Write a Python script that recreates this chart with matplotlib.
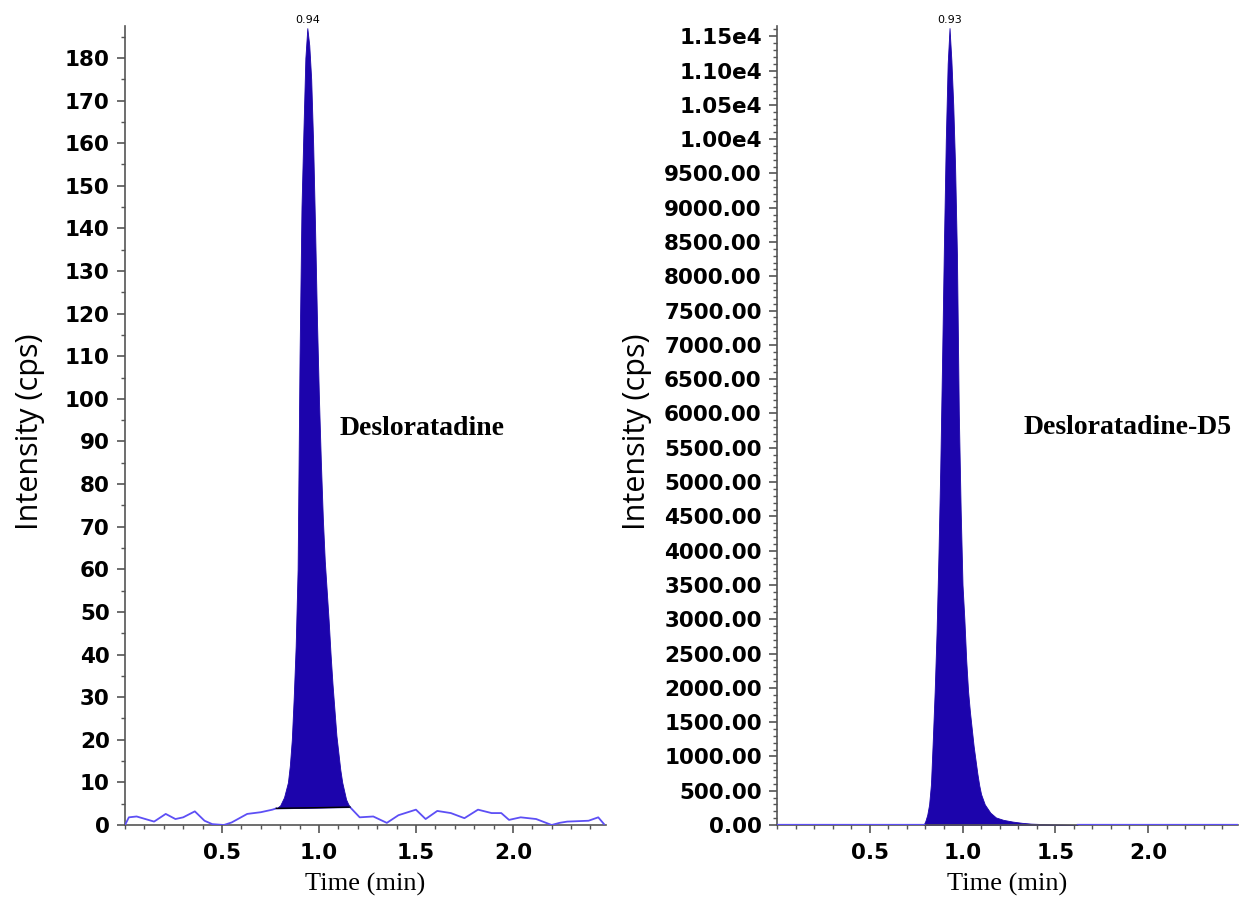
import matplotlib
matplotlib.use("Agg")
import matplotlib.pyplot as plt
from matplotlib.ticker import MultipleLocator, FuncFormatter, FixedLocator
import numpy as np

# ---------------- data: Desloratadine (left) ----------------
left_pre_t = [0.00, 0.02, 0.06, 0.15, 0.21, 0.26, 0.30, 0.36, 0.41, 0.45, 0.51, 0.55, 0.63, 0.70, 0.76, 0.78]
left_pre_y = [0.0, 1.8, 2.0, 0.8, 2.6, 1.4, 1.8, 3.2, 1.0, 0.2, 0.0, 0.6, 2.6, 3.0, 3.6, 3.9]
left_peak_t = [0.78, 0.80, 0.82, 0.84, 0.85, 0.86, 0.87, 0.88, 0.89, 0.90, 0.91, 0.92, 0.93, 0.94,
               0.95, 0.96, 0.97, 0.98, 0.99, 1.00, 1.01, 1.02, 1.03, 1.04, 1.05, 1.06, 1.07, 1.08,
               1.09, 1.10, 1.11, 1.12, 1.13, 1.14, 1.15, 1.16]
left_peak_y = [3.9, 4.6, 6.5, 10.0, 14.0, 20.0, 30.0, 42.0, 60.0, 110.0, 145.0, 163.0, 180.0, 187.0,
               183.0, 175.0, 160.0, 140.0, 118.0, 100.0, 85.0, 72.0, 62.0, 55.0, 48.0, 40.0, 33.0, 27.0,
               21.0, 17.0, 13.0, 10.0, 8.0, 6.0, 5.0, 4.2]
left_post_t = [1.16, 1.21, 1.28, 1.35, 1.41, 1.50, 1.55, 1.61, 1.68, 1.75, 1.82, 1.89, 1.94, 1.98, 2.04,
               2.12, 2.20, 2.24, 2.28, 2.39, 2.44, 2.47]
left_post_y = [4.2, 1.8, 2.0, 0.5, 2.3, 3.6, 1.4, 3.3, 2.8, 1.6, 3.6, 2.8, 2.8, 1.2, 1.8,
               1.4, 0.0, 0.5, 0.8, 1.0, 1.8, 0.2]
left_apex_label = "0.94"
left_name = "Desloratadine"
left_yticks = list(range(0, 190, 10))

# ---------------- data: Desloratadine-D5 (right) ----------------
right_pre_t = [0.00, 0.40, 0.79]
right_pre_y = [0.0, 0.0, 0.0]
right_peak_t = [0.79, 0.80, 0.81, 0.82, 0.83, 0.84, 0.85, 0.86, 0.87, 0.88, 0.89, 0.90, 0.91, 0.92,
                0.93, 0.94, 0.95, 0.96, 0.97, 0.98, 0.99, 1.00, 1.01, 1.02, 1.03, 1.04, 1.05, 1.06,
                1.07, 1.08, 1.09, 1.10, 1.12, 1.15, 1.18, 1.22, 1.27, 1.32, 1.37, 1.45, 1.52, 1.58, 1.62]
right_peak_y = [0, 60, 150, 300, 600, 1250, 1950, 2800, 3900, 5200, 6800, 8500, 10000, 11100,
                11620, 11150, 10500, 9600, 8300, 6000, 4600, 3500, 3000, 2400, 1950, 1650, 1400, 1150,
                950, 750, 580, 450, 300, 180, 110, 75, 50, 32, 20, 12, 8, 4, 0]
right_post_t = [1.62, 2.00, 2.485]
right_post_y = [0.0, 0.0, 0.0]
right_apex_label = "0.93"
right_name = "Desloratadine-D5"
right_yticks = list(range(0, 11501, 500))

x_major = [0.5, 1.0, 1.5, 2.0]

# ---------------- style ----------------
FILL = "#1c04ac"
LINE = "#5d4ff5"
AXC = "#555555"
TICKFONT = dict(family="DejaVu Sans", weight="bold", size=15.5)

fig = plt.figure(figsize=(12.41, 8.97), dpi=100)
W, H = 1241.0, 897.0
axL = fig.add_axes([125 / W, 72 / H, 481 / W, 799 / H])
axR = fig.add_axes([777 / W, 72 / H, 461 / W, 799 / H])


def style_axis(ax):
    for s in ("top", "right"):
        ax.spines[s].set_visible(False)
    for s in ("left", "bottom"):
        ax.spines[s].set_color(AXC)
        ax.spines[s].set_linewidth(1.2)
    ax.xaxis.set_major_locator(FixedLocator(x_major))
    ax.xaxis.set_minor_locator(MultipleLocator(0.1))
    ax.tick_params(axis="both", which="major", direction="out", length=6, width=1.2,
                   color=AXC, pad=5)
    ax.tick_params(axis="both", which="minor", direction="out", length=3, width=1.0, color=AXC)
    ax.tick_params(axis="x", which="major", pad=7)
    ax.xaxis.set_major_formatter(FuncFormatter(lambda v, p: f"{v:.1f}"))
    for lab in ax.get_xticklabels() + ax.get_yticklabels():
        lab.set_fontproperties(matplotlib.font_manager.FontProperties(**TICKFONT))
    ax.set_xlabel("Time (min)", family="Liberation Serif", fontsize=19, labelpad=7)


# ----- left panel -----
axL.plot(left_pre_t, left_pre_y, color=LINE, lw=1.3, zorder=3)
axL.plot(left_post_t, left_post_y, color=LINE, lw=1.3, zorder=3)
pt = np.array(left_peak_t)
base = np.interp(pt, [left_peak_t[0], left_peak_t[-1]], [left_peak_y[0], left_peak_y[-1]])
axL.fill_between(pt, base, left_peak_y, color=FILL, lw=0.6, edgecolor=FILL, zorder=2)
axL.plot([left_peak_t[0], left_peak_t[-1]], [left_peak_y[0], left_peak_y[-1]], color="black",
         lw=1.0, zorder=4)
axL.set_xlim(0, 2.48)
axL.set_ylim(0, 187.5)
axL.yaxis.set_major_locator(FixedLocator(left_yticks))
axL.yaxis.set_minor_locator(MultipleLocator(5))
axL.yaxis.set_major_formatter(FuncFormatter(lambda v, p: f"{v:.0f}"))
style_axis(axL)
iL = int(np.argmax(left_peak_y))
axL.annotate(left_apex_label, (left_peak_t[iL], left_peak_y[iL]), xytext=(0, 2),
             textcoords="offset points", ha="center", va="bottom", fontsize=8,
             family="DejaVu Sans", annotation_clip=False)
axL.text(1.53, 93, left_name, family="Liberation Serif", weight="bold", fontsize=20,
         ha="center", va="center")

# ----- right panel -----
axR.fill_between(right_peak_t, 0, right_peak_y, color=FILL, lw=0.6, edgecolor=FILL, zorder=2)
axR.plot(right_pre_t, right_pre_y, color=LINE, lw=1.6, zorder=3)
axR.plot(right_post_t, right_post_y, color=LINE, lw=1.6, zorder=3)
axR.set_xlim(0, 2.485)
axR.set_ylim(0, 11650)
axR.yaxis.set_major_locator(FixedLocator(right_yticks))
axR.yaxis.set_minor_locator(MultipleLocator(100))


def rfmt(v, p):
    if v >= 10000:
        return f"{v / 1e4:.2f}e4"
    return f"{v:.2f}"


axR.yaxis.set_major_formatter(FuncFormatter(rfmt))
style_axis(axR)
iR = int(np.argmax(right_peak_y))
axR.annotate(right_apex_label, (right_peak_t[iR], right_peak_y[iR]), xytext=(0, 2),
             textcoords="offset points", ha="center", va="bottom", fontsize=8,
             family="DejaVu Sans", annotation_clip=False)
axR.text(1.89, 5790, right_name, family="Liberation Serif", weight="bold", fontsize=20,
         ha="center", va="center")

# y labels
fig.text(30 / W, 1 - 432 / H, "Intensity (cps)", rotation=90, ha="center", va="center",
         family="Open Sans", fontsize=22)
fig.text(637 / W, 1 - 432 / H, "Intensity (cps)", rotation=90, ha="center", va="center",
         family="Open Sans", fontsize=22)

fig.savefig("out.png", dpi=100)
